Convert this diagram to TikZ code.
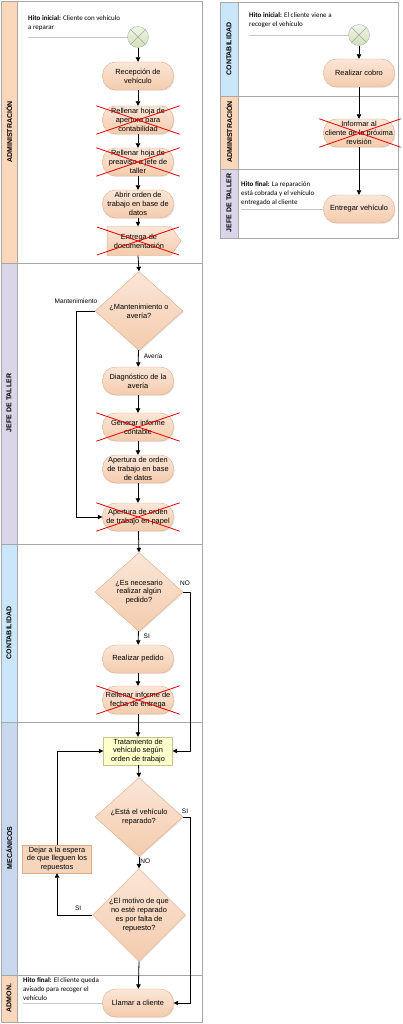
\documentclass[tikz,border=0pt]{standalone}
\usepackage{fontspec}
\setmainfont{Liberation Sans}
\newfontfamily\hitofont{Carlito}
\usetikzlibrary{arrows.meta,shapes.geometric,shapes.symbols,shadows}
\definecolor{nodoarriba}{HTML}{FBE6D7}
\definecolor{nodoabajo}{HTML}{F4CBAD}
\definecolor{nodoborde}{HTML}{D9AC8A}
\definecolor{admcol}{HTML}{FAD6BA}
\definecolor{jefecol}{HTML}{DAD5E8}
\definecolor{contcol}{HTML}{C9E6FA}
\definecolor{meccol}{HTML}{C8D6EE}
\definecolor{lineacol}{HTML}{A8A8A8}
\definecolor{tratcol}{HTML}{FFFFCC}
\definecolor{tratborde}{HTML}{C4C48C}
\definecolor{iniciocol}{HTML}{CFE0B4}

\begin{document}
\begin{tikzpicture}[x=1pt, y=-1pt,
    actividad/.style={rectangle, draw=nodoborde, rounded corners=13pt, top color=nodoarriba,
                 bottom color=nodoabajo, minimum width=71pt, minimum height=28pt, inner sep=1pt,
                 align=center, font=\fontsize{7.4}{8.8}\selectfont,
                 drop shadow={opacity=0.18, shadow xshift=1pt, shadow yshift=-1pt}},
    decision/.style={diamond, draw=nodoborde, top color=nodoarriba, bottom color=nodoabajo,
                 minimum width=88pt, minimum height=79pt, inner sep=0pt, align=center,
                 font=\fontsize{7.4}{8.8}\selectfont,
                 drop shadow={opacity=0.18, shadow xshift=1pt, shadow yshift=-1pt}},
    tarea/.style={rectangle, draw=nodoborde, fill=nodoabajo!80!white, minimum width=69pt,
                 minimum height=28pt, inner sep=1pt, align=center, font=\fontsize{7.4}{8.8}\selectfont},
    inicio/.style={circle, draw=gray!60, top color=white!70!iniciocol, bottom color=iniciocol,
                 minimum size=21pt, inner sep=0pt},
    carril/.style={draw=lineacol, line width=0.5pt},
    titulo/.style={rotate=90, font=\bfseries\fontsize{7}{8}\selectfont},
    hito/.style={anchor=north west, inner sep=0pt, align=left, font=\hitofont\fontsize{7}{9.3}\selectfont},
    hitolinea/.style={draw=gray!45, line width=0.5pt},
    flecha/.style={-{Triangle[length=4.5pt, width=4.5pt]}, line width=0.8pt},
    cruz/.style={red!90!black, line width=0.8pt},
    etq/.style={font=\fontsize{6.5}{8}\selectfont, inner sep=0pt}
]
    \useasboundingbox (0,0) rectangle (402,1024);

    % carriles de la izquierda
    \fill[admcol]  (1,1)   rectangle (17,263);
    \fill[jefecol] (1,263) rectangle (17,544);
    \fill[contcol] (1,544) rectangle (17,722);
    \fill[meccol]  (1,722) rectangle (17,975);
    \fill[admcol]  (1,975) rectangle (17,1022);
    \draw[carril] (1,1) rectangle (202,1022) (17,1) -- (17,1022);
    \draw[carril] (1,263) -- (202,263) (1,544) -- (202,544) (1,722) -- (202,722) (1,975) -- (202,975);
    \node[titulo] (tadm)  at (9,132)  {ADMINISTRACIÓN};
    \node[titulo] (tjefe) at (9,403)  {JEFE DE TALLER};
    \node[titulo] (tcont) at (9,633)  {CONTABILIDAD};
    \node[titulo] (tmec)  at (9,848)  {MECÁNICOS};
    \node[titulo] (tadmn) at (9,998)  {ADMON.};

    % carriles de la derecha
    \fill[contcol] (220,2)   rectangle (238,96);
    \fill[admcol]  (220,96)  rectangle (238,169);
    \fill[jefecol] (220,169) rectangle (238,238);
    \draw[carril] (220,2) rectangle (398,238) (238,2) -- (238,238);
    \draw[carril] (220,96) -- (398,96) (220,169) -- (398,169);
    \node[titulo] (tcont2) at (229,49)  {CONTABILIDAD};
    \node[titulo] (tadm2)  at (229,132) {ADMINISTRACIÓN};
    \node[titulo] (tjefe2) at (229,203) {JEFE DE TALLER};

    % nodos de la izquierda
    \node[inicio]    (ini)     at (138,37)  {};
    \node[hito]      (hitoA)   at (28,15)   {\textbf{Hito inicial:} Cliente con vehículo\\a reparar};
    \node[actividad] (recep)   at (138,76)  {Recepción de\\vehículo};
    \node[actividad] (apert)   at (138,120) {Rellenar hoja de\\apertura para\\contabilidad};
    \node[actividad] (preav)   at (138,162) {Rellenar hoja de\\preaviso a jefe de\\taller};
    \node[actividad] (abrir)   at (138,204) {Abrir orden de\\trabajo en base de\\datos};
    \node[signal, signal to=east, signal pointer angle=110, draw=nodoborde, top color=nodoarriba,
          bottom color=nodoabajo, minimum width=74pt, minimum height=29pt, inner sep=1pt,
          align=center, font=\fontsize{7.4}{8.8}\selectfont] (entrega) at (139,241) {Entrega de\\documentación};
    \node[decision]  (mant)    at (139,311) {¿Mantenimiento o\\avería?};
    \node[actividad] (diag)    at (138,381) {Diagnóstico de la\\avería};
    \node[actividad] (generar) at (138,427) {Generar informe\\contable};
    \node[actividad] (apbd)    at (138,469) {Apertura de orden\\de trabajo en base\\de datos};
    \node[actividad] (papel)   at (138,517) {Apertura de orden\\de trabajo en papel};
    \node[decision]  (pedido)  at (139,592) {¿Es necesario\\realizar algún\\pedido?};
    \node[actividad] (realiz)  at (138,659) {Realizar pedido};
    \node[actividad] (rellinf) at (138,700) {Rellenar informe de\\fecha de entrega};
    \node[tarea, fill=tratcol, draw=tratborde] (trat) at (138,751) {Tratamiento de\\vehículo según\\orden de trabajo};
    \node[decision]  (repar)   at (139,817) {¿Está el vehículo\\reparado?};
    \node[decision]  (motivo)  at (139,915) {¿El motivo de que\\no esté reparado\\es por falta de\\repuesto?};
    \node[tarea]     (dejar)   at (57,859)  {Dejar a la espera\\de que lleguen los\\repuestos};
    \node[actividad] (llamar)  at (138,1003) {Llamar a cliente};
    \node[hito]      (hitoB)   at (23,977)  {\textbf{Hito final:} El cliente queda\\avisado para recoger el\\vehículo};

    % nodos de la derecha
    \node[inicio]    (ini2)     at (359,35)  {};
    \node[hito]      (hitoC)    at (249,12)  {\textbf{Hito inicial:} El cliente viene a\\recoger el vehículo};
    \node[actividad] (cobro)    at (359,73)  {Realizar cobro};
    \node[actividad] (informar) at (359,133) {Informar al\\cliente de la próxima\\revisión};
    \node[actividad] (entregar) at (359,209) {Entregar vehículo};
    \node[hito]      (hitoD)    at (241,181) {\textbf{Hito final:} La reparación\\está cobrada y el vehículo\\entregado al cliente};

    \draw[gray!70] (ini.north east) -- (ini.south west) (ini.north west) -- (ini.south east);
    \draw[gray!70] (ini2.north east) -- (ini2.south west) (ini2.north west) -- (ini2.south east);
    \draw[hitolinea] (hitoA.west |- ini.west) -- (ini.west);
    \draw[hitolinea] (hitoB.west |- llamar.west) -- (llamar.west);
    \draw[hitolinea] (hitoC.west |- ini2.west) -- (ini2.west);
    \draw[hitolinea] (hitoD.west |- entregar.west) -- (entregar.west);

    \coordinate (mantc) at (76,311);
    \coordinate (noc)   at (190,592);
    \coordinate (sic)   at (190,817);

    \draw[flecha] (ini)     -- (recep);
    \draw[flecha] (recep)   -- (apert);
    \draw[flecha] (apert)   -- (preav);
    \draw[flecha] (preav)   -- (abrir);
    \draw[flecha] (abrir)   -- (entrega.north -| abrir.south);
    \draw[flecha] (entrega.south -| abrir.south) -- (mant.north);
    \draw[flecha] (mant)    -- node[etq, pos=0.35, right=5pt]{Avería} (diag);
    \draw[flecha] (mant.west) -- (mantc) node[etq, above=7pt]{Mantenimiento} |- (papel.west);
    \draw[flecha] (diag)    -- (generar);
    \draw[flecha] (generar) -- (apbd);
    \draw[flecha] (apbd)    -- (papel);
    \draw[flecha] (papel)   -- (pedido.north);
    \draw[flecha] (pedido)  -- node[etq, pos=0.35, right=5pt]{SI} (realiz);
    \draw[flecha] (pedido.east) -- (noc) node[etq, above=6pt, xshift=-5pt]{NO} |- (trat.east);
    \draw[flecha] (realiz)  -- (rellinf);
    \draw[flecha] (rellinf) -- (trat);
    \draw[flecha] (trat)    -- (repar.north);
    \draw[flecha] (repar)   -- node[etq, pos=0.4, right=1pt]{NO} (motivo);
    \draw[flecha] (repar.east) -- (sic) node[etq, above=3pt, xshift=-5pt]{SI} |- (llamar.east);
    \draw[flecha] (motivo.west) -| node[etq, pos=0.2, above=4pt]{SI} (dejar.south);
    \draw[flecha] (dejar.north) |- (trat.west);
    \draw[flecha] (motivo.south) -- (llamar);
    \draw[flecha] (ini2)     -- (cobro);
    \draw[flecha] (cobro)    -- (informar);
    \draw[flecha] (informar) -- (entregar);

    % tareas tachadas
    \draw[cruz] ([xshift=-6pt]apert.north west) -- ([xshift=6pt]apert.south east)
                ([xshift=-6pt]apert.south west) -- ([xshift=6pt]apert.north east);
    \draw[cruz] ([xshift=-6pt]preav.north west) -- ([xshift=6pt]preav.south east)
                ([xshift=-6pt]preav.south west) -- ([xshift=6pt]preav.north east);
    \draw[cruz] ([shift={(-42pt,14pt)}]entrega.center) -- ([shift={(40pt,-14pt)}]entrega.center)
                ([shift={(-42pt,-14pt)}]entrega.center) -- ([shift={(40pt,14pt)}]entrega.center);
    \draw[cruz] ([xshift=-6pt]generar.north west) -- ([xshift=6pt]generar.south east)
                ([xshift=-6pt]generar.south west) -- ([xshift=6pt]generar.north east);
    \draw[cruz] ([xshift=-6pt]papel.north west) -- ([xshift=6pt]papel.south east)
                ([xshift=-6pt]papel.south west) -- ([xshift=6pt]papel.north east);
    \draw[cruz] ([xshift=-6pt]rellinf.north west) -- ([xshift=6pt]rellinf.south east)
                ([xshift=-6pt]rellinf.south west) -- ([xshift=6pt]rellinf.north east);
    \draw[cruz] ([xshift=-4pt]informar.north west) -- ([xshift=6pt]informar.south east)
                ([xshift=-4pt]informar.south west) -- ([xshift=6pt]informar.north east);
\end{tikzpicture}
\end{document}
